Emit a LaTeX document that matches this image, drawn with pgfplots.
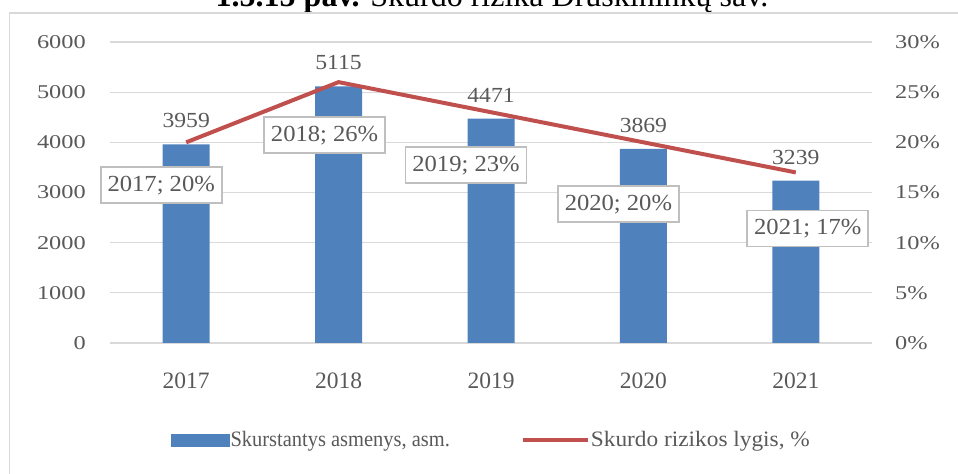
\documentclass[border=0pt]{standalone}
\usepackage{pgfplots}
\pgfplotsset{compat=1.18}
\usepackage{fontspec}
\setmainfont{Liberation Serif}
\newfontfamily\yfont[FakeStretch=1.25]{Liberation Serif}
\newfontfamily\dfont[FakeStretch=1.1]{Liberation Serif}
\newfontfamily\bfont[FakeStretch=1.07]{Liberation Serif}
\newfontfamily\lafont[FakeStretch=0.93]{Liberation Serif}
\newfontfamily\lbfont[FakeStretch=1.06]{Liberation Serif}
\definecolor{barblue}{HTML}{4F81BD}
\definecolor{linered}{HTML}{C0504D}
\definecolor{txt}{HTML}{595959}
\definecolor{gridc}{HTML}{D9D9D9}
\definecolor{boxc}{HTML}{BFBFBF}
\definecolor{framec}{HTML}{D9D9D9}
\tikzset{lbox/.style={draw=boxc, line width=1.8bp, fill=white, minimum width=121bp, minimum height=36bp, inner sep=0pt, text=txt, font=\bfont\fontsize{23bp}{24bp}\selectfont}}
\begin{document}
\begin{tikzpicture}[x=1bp,y=1bp]
\useasboundingbox (0,0) rectangle (958,474);
\node[anchor=base, inner sep=0pt, font=\fontsize{32bp}{34bp}\selectfont] at (492,467.5) {\textbf{1.5.15 pav.} Skurdo rizika Druskininkų sav.};
\draw[framec, line width=1.5bp] (9.5,-5) -- (9.5,461) -- (965,461);
\begin{axis}[
  at={(110bp,131bp)}, anchor=south west, scale only axis, width=762bp, height=301bp,
  xmin=-0.5, xmax=4.5, ymin=0, ymax=6000,
  axis line style={draw=none}, major tick style={draw=none},
  ymajorgrids, grid style={gridc, line width=1.2bp},
  ytick={0,1000,2000,3000,4000,5000,6000},
  yticklabels={0,1000,2000,3000,4000,5000,6000},
  yticklabel style={anchor=east, inner sep=0pt, xshift=-24bp, text=txt, font=\yfont\fontsize{19.5bp}{20bp}\selectfont},
  xtick={0,1,2,3,4}, xticklabels={2017,2018,2019,2020,2021},
  xticklabel style={anchor=north, inner sep=0pt, yshift=-30bp, text=txt, font=\fontsize{23.5bp}{24bp}\selectfont},
  clip=false,
]
\addplot[ybar, bar width=47bp, fill=barblue, draw=none, point meta=explicit symbolic, nodes near coords,
  every node near coord/.append style={anchor=south, inner sep=0pt, yshift=16bp, text=txt, font=\dfont\fontsize{21.5bp}{22bp}\selectfont}]
  coordinates {(0,3959)[3959] (1,5115)[5115] (2,4471)[4471] (3,3869)[3869] (4,3239)[3239]};
\end{axis}
\begin{axis}[
  at={(110bp,131bp)}, anchor=south west, scale only axis, width=762bp, height=301bp,
  xmin=-0.5, xmax=4.5, ymin=0, ymax=30,
  axis line style={draw=none}, major tick style={draw=none},
  xtick=\empty,
  ytick={0,5,10,15,20,25,30}, yticklabels={0\%,5\%,10\%,15\%,20\%,25\%,30\%},
  yticklabel pos=right,
  yticklabel style={anchor=west, inner sep=0pt, xshift=23bp, text=txt, font=\yfont\fontsize{19.5bp}{20bp}\selectfont},
  clip=false,
  legend columns=2,
  legend style={draw=none, fill=none, at={(0.5,-0.322)}, anchor=center, text=txt,
    font=\fontsize{22bp}{23bp}\selectfont, nodes={inner sep=1bp},
    /tikz/every even column/.append style={column sep=70bp}},
]
\addlegendimage{legend image code/.code={\fill[barblue] (0bp,-6bp) rectangle (58bp,6bp);}}
\addlegendentry{\lafont Skurstantys asmenys, asm.}
\addplot[linered, line width=4bp, legend image code/.code={\draw[linered, line width=4bp] (0bp,0bp) -- (65bp,0bp);}]
  coordinates {(0,20) (1,26) (2,23) (3,20) (4,17)};
\addlegendentry{\lbfont Skurdo rizikos lygis, \%}
\node[lbox, xshift=-25bp, yshift=-43bp] at (axis cs:0,20) {2017; 20\%};
\node[lbox, xshift=-14bp, yshift=-53bp] at (axis cs:1,26) {2018; 26\%};
\node[lbox, xshift=-25bp, yshift=-53bp] at (axis cs:2,23) {2019; 23\%};
\node[lbox, xshift=-25bp, yshift=-62bp] at (axis cs:3,20) {2020; 20\%};
\node[lbox, xshift=12bp, yshift=-56bp] at (axis cs:4,17) {2021; 17\%};
\end{axis}
\end{tikzpicture}
\end{document}
